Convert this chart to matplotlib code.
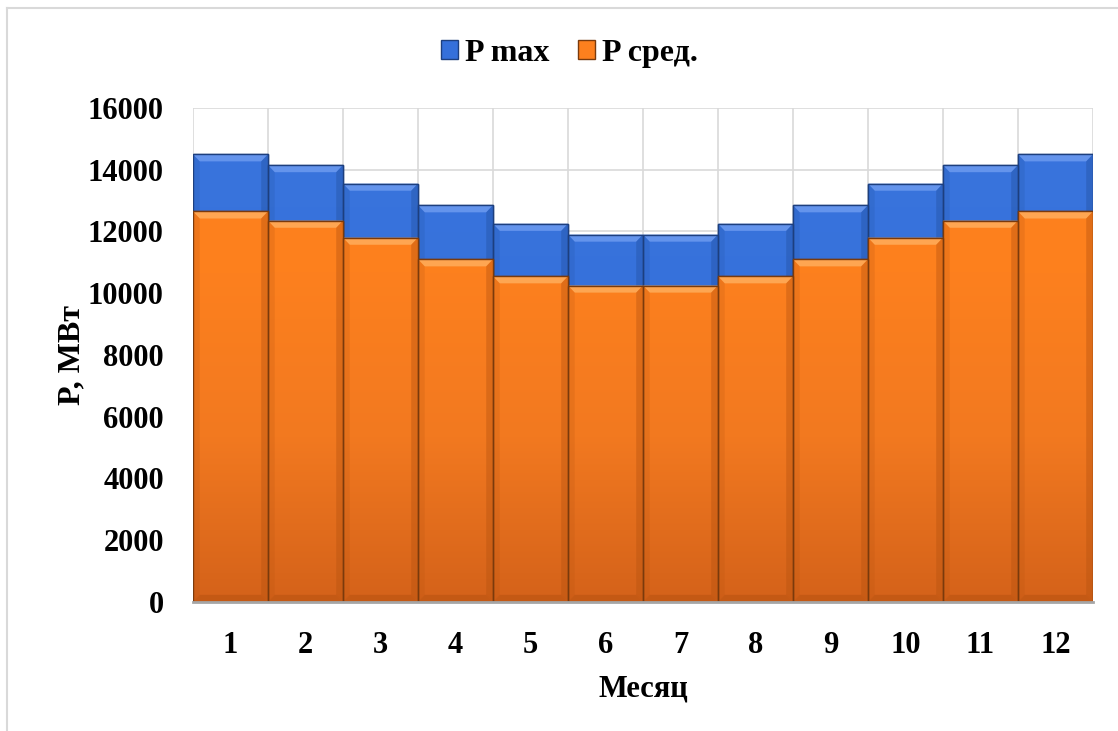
import numpy as np
import matplotlib.pyplot as plt
from matplotlib.colors import LinearSegmentedColormap
from matplotlib.patches import Patch, Polygon

months = [1, 2, 3, 4, 5, 6, 7, 8, 9, 10, 11, 12]
p_max = [14500, 14150, 13550, 12850, 12250, 11900, 11900, 12250, 12850, 13550, 14150, 14500]
p_avg = [12650, 12350, 11800, 11100, 10550, 10250, 10250, 10550, 11100, 11800, 12350, 12650]

plt.rcParams['font.family'] = ['Liberation Serif', 'DejaVu Serif']
plt.rcParams['font.weight'] = 'bold'
FS = 22

fig = plt.figure(figsize=(11.18, 7.31), dpi=100)
ax = fig.add_axes([0.1726, 0.1765, 0.805, 0.6758])

# colour schemes: (gradient stops bottom->top, light bevel, dark bevel, edge)
blue = (['#2e62c6', '#3570da', '#3a75de'], '#74a0f2', '#22509f', '#1d3f7e')
orange = (['#d4621a', '#f27920', '#fd801e', '#ff821c'], '#ffb464', '#b5520f', '#7a3a0c')

ymax = 16000
bev_x = 0.09     # bevel width in x units
bev_y = 230      # bevel height in y units


def bevel_bars(ax, xs, tops, scheme, z):
    stops, light, dark, edge = scheme
    cmap = LinearSegmentedColormap.from_list('g', stops)
    grad = np.linspace(0, 1, 256).reshape(-1, 1)
    bars = ax.bar(xs, tops, width=1.0, color=stops[-1], edgecolor=edge, linewidth=1.0, zorder=z)
    for b, x, top in zip(bars, xs, tops):
        l, r = x - 0.5, x + 0.5
        im = ax.imshow(grad, cmap=cmap, origin='lower', aspect='auto',
                       extent=(l, r, 0, ymax), zorder=z + 0.1,
                       vmin=0, vmax=1)
        im.set_clip_path(b)
        # top highlight
        ax.add_patch(Polygon([(l, top), (r, top), (r - bev_x, top - bev_y), (l + bev_x, top - bev_y)],
                             closed=True, facecolor=light, edgecolor='none', alpha=0.75, zorder=z + 0.2))
        # side shading
        ax.add_patch(Polygon([(l, top), (l + bev_x, top - bev_y), (l + bev_x, bev_y), (l, 0)],
                             closed=True, facecolor=dark, edgecolor='none', alpha=0.2, zorder=z + 0.2))
        ax.add_patch(Polygon([(r, top), (r - bev_x, top - bev_y), (r - bev_x, bev_y), (r, 0)],
                             closed=True, facecolor=dark, edgecolor='none', alpha=0.4, zorder=z + 0.2))
        # bottom shading
        ax.add_patch(Polygon([(l, 0), (r, 0), (r - bev_x, bev_y), (l + bev_x, bev_y)],
                             closed=True, facecolor=dark, edgecolor='none', alpha=0.5, zorder=z + 0.2))
        # outline
        ax.add_patch(Polygon([(l, 0), (l, top), (r, top), (r, 0)], closed=True,
                             facecolor='none', edgecolor=edge, linewidth=1.0, zorder=z + 0.3))


bevel_bars(ax, months, p_max, blue, 2)
bevel_bars(ax, months, p_avg, orange, 3)

ax.set_xlim(0.5, 12.5)
ax.set_ylim(0, ymax)
ax.set_yticks(np.arange(0, 16001, 2000))
ax.set_xticks(months)
ax.set_xticks(np.arange(0.5, 12.6, 1), minor=True)

ax.grid(axis='y', color='#d9d9d9', linewidth=1.2, zorder=0)
ax.grid(axis='x', which='minor', color='#d9d9d9', linewidth=1.2, zorder=0)
ax.grid(axis='x', which='major', visible=False)
ax.set_axisbelow(True)

for s in ['top', 'right', 'left']:
    ax.spines[s].set_visible(False)
ax.spines['bottom'].set_color('#a6a6a6')
ax.spines['bottom'].set_linewidth(2)
ax.spines['bottom'].set_zorder(5)

ax.tick_params(axis='both', which='both', length=0, labelsize=FS)
ax.tick_params(axis='y', pad=21)
ax.tick_params(axis='x', pad=21)
for lab in ax.get_xticklabels() + ax.get_yticklabels():
    lab.set_fontweight('bold')

ax.set_xlabel('Месяц', fontsize=FS, fontweight='bold', labelpad=10)
ax.set_ylabel('P, МВт', fontsize=FS + 1, fontweight='bold', va='center')
ax.yaxis.set_label_coords(-0.135, 0.5)

handles = [Patch(facecolor=blue[0][1], edgecolor=blue[3]), Patch(facecolor=orange[0][2], edgecolor=orange[3])]
fig.legend(handles, ['P max', 'P сред.'], loc='center', bbox_to_anchor=(0.509, 0.927), ncol=2,
           frameon=False, handlelength=0.55, handleheight=0.55, handletextpad=0.2,
           columnspacing=0.9, prop={'size': FS + 1, 'weight': 'bold'})

# chart frame
fig.add_artist(plt.Line2D([0.0067, 0.0067], [0, 0.989], transform=fig.transFigure, color='#d9d9d9', lw=1.5))
fig.add_artist(plt.Line2D([0.0067, 1.0], [0.989, 0.989], transform=fig.transFigure, color='#d9d9d9', lw=1.5))

fig.savefig('out.png', dpi=100)
